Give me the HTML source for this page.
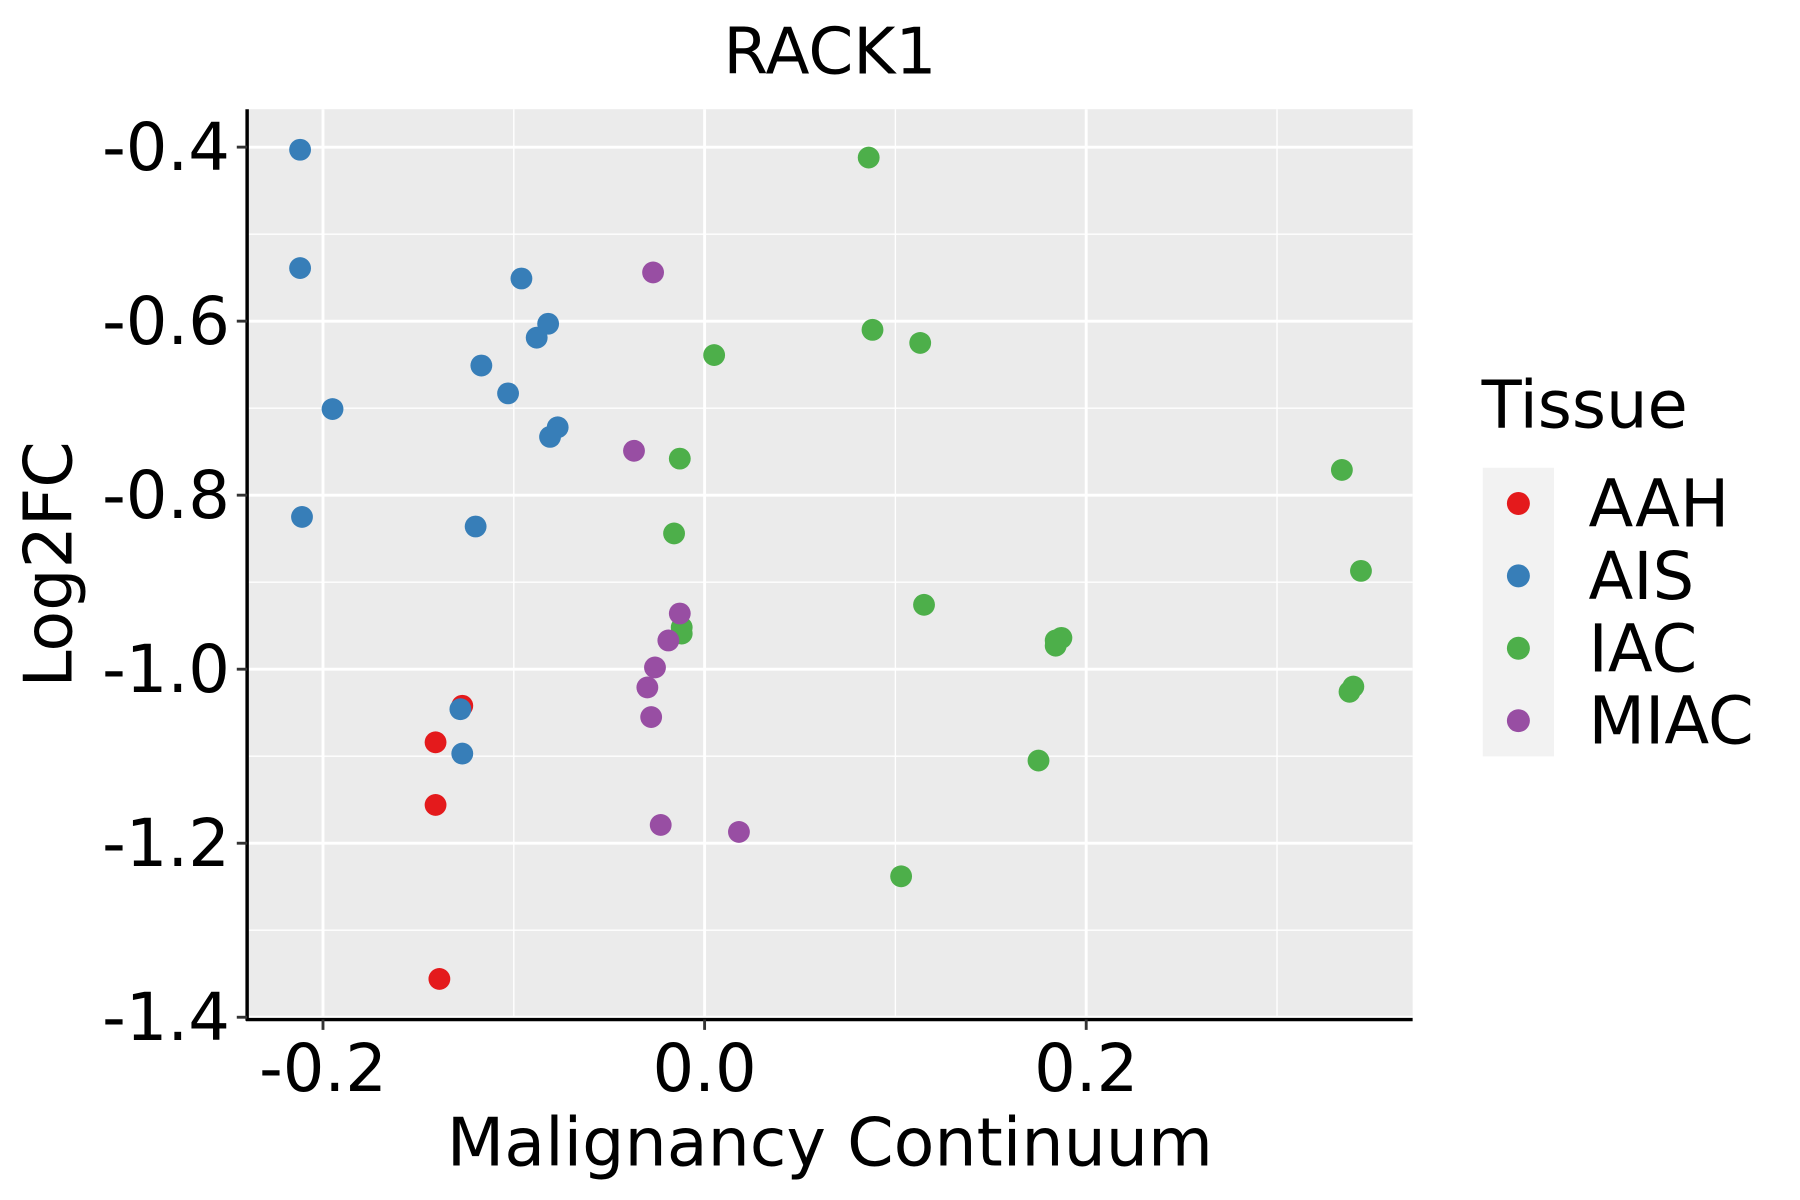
<!DOCTYPE html>
<html><head><meta charset="utf-8"><style>
html,body{margin:0;padding:0;background:#fff;}
svg{display:block;font-family:"DejaVu Sans","Liberation Sans",sans-serif;}
</style></head><body>
<svg id="chart" width="1800" height="1200" viewBox="0 0 1566 1044" xmlns="http://www.w3.org/2000/svg">
<rect x="0" y="0" width="1566" height="1044" fill="#fff"/>
<rect x="215" y="95" width="1014" height="792" fill="#ebebeb"/>
<g id="grid"></g>
<g id="points"></g>
<line x1="215" y1="95" x2="215" y2="888" stroke="#000" stroke-width="3"/>
<line x1="214" y1="887" x2="1229" y2="887" stroke="#000" stroke-width="3"/>
<g id="ticks"></g>
<text x="722" y="64" font-size="56" text-anchor="middle">RACK1</text>
<text x="722" y="1014" font-size="58" text-anchor="middle">Malignancy Continuum</text>
<text transform="translate(62,491) rotate(-90)" font-size="58" text-anchor="middle">Log2FC</text>
<g>
<text x="1289" y="372" font-size="57">Tissue</text>
<rect x="1290" y="407" width="62" height="251" fill="#f2f2f2"/>
<g id="legend-entries"></g>
</g>
<script>
var categories = ["AAH","AIS","IAC","MIAC"];
var colors = ["#e41a1c","#377eb8","#4daf4a","#984ea3"];
var xTicks = [-0.2, 0.0, 0.2];
var xTickLabels = ["-0.2","0.0","0.2"];
var yTicks = [-0.4,-0.6,-0.8,-1.0,-1.2,-1.4];
var yTickLabels = ["-0.4","-0.6","-0.8","-1.0","-1.2","-1.4"];
var aahX = [-0.127,-0.141,-0.141,-0.139];
var aahY = [-1.042,-1.084,-1.156,-1.356];
var aisX = [-0.212,-0.212,-0.195,-0.211,-0.096,-0.082,-0.088,-0.117,-0.103,-0.077,-0.081,-0.120,-0.128,-0.127];
var aisY = [-0.403,-0.539,-0.701,-0.825,-0.551,-0.603,-0.619,-0.651,-0.683,-0.722,-0.733,-0.836,-1.046,-1.097];
var iacX = [0.086,0.088,0.113,0.005,-0.013,-0.016,0.334,0.344,0.115,0.184,0.187,0.184,-0.012,-0.012,0.340,0.338,0.175,0.103];
var iacY = [-0.412,-0.610,-0.625,-0.639,-0.758,-0.844,-0.771,-0.887,-0.926,-0.967,-0.964,-0.973,-0.952,-0.959,-1.020,-1.026,-1.105,-1.238];
var miacX = [-0.027,-0.037,-0.013,-0.019,-0.026,-0.030,-0.028,-0.023,0.018];
var miacY = [-0.544,-0.749,-0.936,-0.967,-0.998,-1.021,-1.055,-1.179,-1.187];

var NS = "http://www.w3.org/2000/svg";
function xs(v){ return 613 + v*1660; }
function ys(v){ return 128 - (v+0.4)*757; }
function mk(tag, attrs, parent){ var e=document.createElementNS(NS,tag); for(var k in attrs) e.setAttribute(k,attrs[k]); parent.appendChild(e); return e; }

var grid = document.getElementById("grid");
var minorX = [-0.3,-0.1,0.1,0.3];
minorX.forEach(function(v){ var px=xs(v); if(px>215&&px<1229){ var l=mk("line",{x1:px,x2:px,y1:95,y2:887,stroke:"#fff","stroke-width":1.2},grid);

 }});
[-0.5,-0.7,-0.9,-1.1,-1.3].forEach(function(v){ var l=mk("line",{x1:215,x2:1229,y1:ys(v),y2:ys(v),stroke:"#fff","stroke-width":1.2},grid);

 });
var ticks = document.getElementById("ticks");
xTicks.forEach(function(v,i){ var px=xs(v);
var l=mk("line",{x1:px,x2:px,y1:95,y2:887,stroke:"#fff","stroke-width":2.5},grid);


var t=mk("line",{x1:px,x2:px,y1:887,y2:896,stroke:"#333","stroke-width":2.5},ticks);


var tx=mk("text",{x:px,y:949,"font-size":57,"text-anchor":"middle",fill:"#000"},ticks); tx.textContent=xTickLabels[i];

 });
yTicks.forEach(function(v,i){ var py=ys(v);
var l=mk("line",{x1:215,x2:1229,y1:py,y2:py,stroke:"#fff","stroke-width":2.5},grid);


var t=mk("line",{x1:206,x2:215,y1:py,y2:py,stroke:"#333","stroke-width":2.5},ticks);


var tx=mk("text",{x:200,y:py+20,"font-size":57,"text-anchor":"end",fill:"#000"},ticks); tx.textContent=yTickLabels[i];

 });

var pts = document.getElementById("points");
var series = [[aahX,aahY],[aisX,aisY],[iacX,iacY],[miacX,miacY]];
series.forEach(function(s,si){ s[0].forEach(function(xv,j){
var c=mk("circle",{cx:xs(xv),cy:ys(s[1][j]),r:9.5,fill:colors[si]},pts);

 }); });

var le = document.getElementById("legend-entries");
categories.forEach(function(cat,i){ var cy=438+i*63;
var c=mk("circle",{cx:1321,cy:cy,r:10,fill:colors[i]},le);


var t=mk("text",{x:1382,y:cy+20,"font-size":57},le); t.textContent=cat;

 });
</script>
</svg>
</body></html>
